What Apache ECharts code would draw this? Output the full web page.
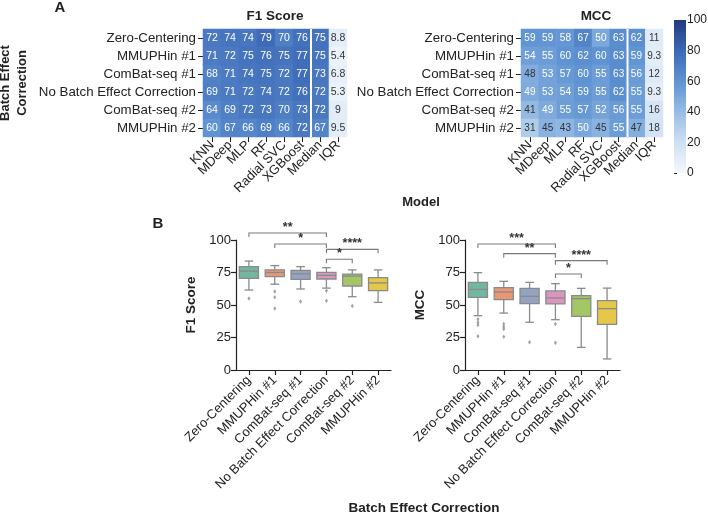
<!DOCTYPE html>
<html><head><meta charset="utf-8">
<script src="https://cdn.jsdelivr.net/npm/echarts@6/dist/echarts.min.js"></script>
<style>html,body{margin:0;padding:0;background:#fff}#c{width:708px;height:517px}</style>
</head><body><div id="c"></div>
<script>
// ---------- DATA ----------
const corrections = ['Zero-Centering', 'MMUPHin #1', 'ComBat-seq #1', 'No Batch Effect Correction', 'ComBat-seq #2', 'MMUPHin #2'];
const models = ['KNN', 'MDeep', 'MLP', 'RF', 'Radial SVC', 'XGBoost', 'Median', 'IQR'];
const separatorAfter = 'XGBoost';

// rows follow `corrections`, columns follow `models`
const f1Matrix = [
  [72, 74, 74, 79, 70, 76, 75, 8.8],
  [71, 72, 75, 76, 75, 77, 75, 5.4],
  [68, 71, 74, 75, 72, 77, 73, 6.8],
  [69, 71, 72, 74, 72, 76, 72, 5.3],
  [64, 69, 72, 73, 70, 73, 72, 9],
  [60, 67, 66, 69, 66, 72, 67, 9.5]
];
const mccMatrix = [
  [59, 59, 58, 67, 50, 63, 62, 11],
  [54, 55, 60, 62, 60, 63, 59, 9.3],
  [48, 53, 57, 60, 55, 63, 56, 12],
  [49, 53, 54, 59, 55, 62, 55, 9.3],
  [41, 49, 55, 57, 52, 56, 55, 16],
  [31, 45, 43, 50, 45, 55, 47, 18]
];

// box stats: [lower whisker, Q1, median, Q3, upper whisker]
const f1Box = [
  [61.5, 70.5, 76.0, 79.5, 83.8],
  [66.0, 71.8, 75.0, 77.0, 80.3],
  [62.3, 69.7, 74.0, 76.7, 79.5],
  [63.0, 70.0, 72.8, 75.1, 78.7],
  [56.4, 64.6, 72.3, 73.8, 77.0],
  [52.0, 61.0, 67.0, 71.0, 77.0]
];
const mccBox = [
  [41.8, 55.9, 62.0, 67.4, 74.9],
  [43.8, 54.1, 60.0, 63.3, 68.2],
  [36.7, 51.0, 56.7, 62.8, 67.4],
  [38.7, 50.8, 55.4, 60.8, 66.4],
  [17.4, 41.3, 54.9, 57.2, 62.8],
  [8.5, 35.1, 47.2, 53.3, 63.0]
];
// outliers: [correction index, value]
const f1Outliers = [[0, 55], [1, 60.3], [1, 56], [1, 47.4], [2, 52.6], [3, 61], [3, 53.3], [4, 49.2]];
const mccOutliers = [[0, 39], [0, 36.6], [0, 34.6], [0, 26], [1, 35.4], [1, 33.3], [1, 31.5], [1, 25.6], [2, 21.3], [3, 35.4], [3, 21]];

// significance brackets: [from index, to index, height, label]
const f1Brackets = [[0, 3, 105.4, '**'], [1, 3, 96.9, '*'], [3, 5, 92.8, '****'], [3, 4, 85.2, '*']];
const mccBrackets = [[0, 3, 96.9, '***'], [1, 3, 89.5, '**'], [3, 5, 84.1, '****'], [3, 4, 73.8, '*']];

const boxTicks = [0, 25, 50, 75, 100];
const colorbarTicks = [0, 20, 40, 60, 80, 100];

// ---------- STYLE ----------
const FONT = 'Liberation Sans, Arial, Helvetica, sans-serif';
const blues = ['#f4f8fd', '#cfe0f3', '#97bce5', '#5f93d2', '#3c68b6', '#233b7d'];
const boxColors = ['#71b6a1', '#e99675', '#95a3c3', '#db96c0', '#a2c764', '#e5c849'];
const grey = '#8a8a8a';
const ink = '#222';

function heatData(mat) {
  const out = [];
  mat.forEach((row, r) => row.forEach((v, c) => {
    out.push({ value: [c, r, v], label: { color: v >= 49 ? '#ffffff' : '#333333' } });
  }));
  return out;
}

function heatAxes(gi) {
  return {
    x: {
      type: 'category', gridIndex: gi, data: models,
      axisLine: { show: false },
      axisTick: { show: true, alignWithLabel: true, length: 5, lineStyle: { color: ink } },
      axisLabel: { rotate: 45, fontSize: 13, color: ink, margin: 6, fontFamily: FONT, interval: 0 },
      splitArea: { show: false }
    },
    y: {
      type: 'category', gridIndex: gi, data: corrections, inverse: true,
      axisLine: { show: false },
      axisTick: { show: true, alignWithLabel: true, length: 5, lineStyle: { color: ink } },
      axisLabel: { fontSize: 13.3, color: ink, margin: 7, fontFamily: FONT, interval: 0 }
    }
  };
}

function boxAxes(gi, name) {
  return {
    x: {
      type: 'category', gridIndex: gi, data: corrections,
      axisLine: { show: true, lineStyle: { color: ink, width: 1.2 } },
      axisTick: { show: true, alignWithLabel: true, length: 5, lineStyle: { color: ink, width: 1.2 } },
      axisLabel: { rotate: 45, fontSize: 13, color: ink, margin: 8, fontFamily: FONT, interval: 0 }
    },
    y: {
      type: 'value', gridIndex: gi, min: boxTicks[0], max: boxTicks[boxTicks.length - 1],
      interval: boxTicks[1] - boxTicks[0],
      name: name, nameLocation: 'middle', nameGap: 38,
      nameTextStyle: { fontSize: 13.5, fontWeight: 'bold', color: ink, fontFamily: FONT },
      axisLine: { show: true, lineStyle: { color: ink, width: 1.2 } },
      axisTick: { show: true, length: 5, lineStyle: { color: ink, width: 1.2 } },
      axisLabel: { fontSize: 13, color: ink, margin: 5, fontFamily: FONT },
      splitLine: { show: false }
    }
  };
}

function boxRender(params, api) {
  const i = api.value(0);
  const pLo = api.coord([i, api.value(1)]);
  const pQ1 = api.coord([i, api.value(2)]);
  const pMed = api.coord([i, api.value(3)]);
  const pQ3 = api.coord([i, api.value(4)]);
  const pHi = api.coord([i, api.value(5)]);
  const bw = api.size([1, 0])[0] * 0.74;
  const cap = bw * 0.45;
  const x = pLo[0];
  const ls = { stroke: grey, lineWidth: 1.3 };
  return {
    type: 'group', children: [
      { type: 'line', shape: { x1: x, y1: pQ3[1], x2: x, y2: pHi[1] }, style: ls },
      { type: 'line', shape: { x1: x, y1: pQ1[1], x2: x, y2: pLo[1] }, style: ls },
      { type: 'line', shape: { x1: x - cap / 2, y1: pHi[1], x2: x + cap / 2, y2: pHi[1] }, style: ls },
      { type: 'line', shape: { x1: x - cap / 2, y1: pLo[1], x2: x + cap / 2, y2: pLo[1] }, style: ls },
      { type: 'rect', shape: { x: x - bw / 2, y: pQ3[1], width: bw, height: pQ1[1] - pQ3[1] },
        style: { fill: boxColors[i], stroke: grey, lineWidth: 1.3 } },
      { type: 'line', shape: { x1: x - bw / 2, y1: pMed[1], x2: x + bw / 2, y2: pMed[1] }, style: ls }
    ]
  };
}

function bracketRenderer(list) {
  return function (params, api) {
    const item = list[params.dataIndex];
    const a = api.coord([item[0], item[2]]);
    const b = api.coord([item[1], item[2]]);
    const drop = 4;
    return {
      type: 'group', children: [
        { type: 'polyline', shape: { points: [[a[0], a[1] + drop], [a[0], a[1]], [b[0], b[1]], [b[0], b[1] + drop]] },
          style: { stroke: '#7a7a7a', lineWidth: 1.1, fill: null } },
        { type: 'text', x: (a[0] + b[0]) / 2, y: a[1] + 1,
          style: { text: item[3], fontSize: 12.5, fontWeight: 'bold', fill: '#333', textAlign: 'center', textVerticalAlign: 'bottom', fontFamily: FONT } }
      ]
    };
  };
}

function sepRender(params, api) {
  const idx = models.indexOf(separatorAfter);
  const a = api.coord([idx, 0]);
  const w = api.size([1, 0])[0];
  const cs = params.coordSys;
  const x = a[0] + w / 2;
  return { type: 'line', shape: { x1: x, y1: cs.y, x2: x, y2: cs.y + cs.height }, style: { stroke: '#fff', lineWidth: 2 } };
}

function colorbarRender(params, api) {
  const cs = params.coordSys;
  const pLow = api.coord([0, colorbarTicks[0]]);
  const pHigh = api.coord([0, colorbarTicks[colorbarTicks.length - 1]]);
  return {
    type: 'rect', shape: { x: cs.x, y: pHigh[1], width: cs.width, height: pLow[1] - pHigh[1] },
    style: {
      fill: { type: 'linear', x: 0, y: 1, x2: 0, y2: 0,
        colorStops: blues.map((c, k) => ({ offset: k / (blues.length - 1), color: c })) }
    }
  };
}

const hA = heatAxes(0), hB = heatAxes(1), bA = boxAxes(2, 'F1 Score'), bB = boxAxes(3, 'MCC');

const option = {
  animation: false,
  backgroundColor: '#fff',
  textStyle: { fontFamily: FONT },
  grid: [
    { left: 203, top: 29, width: 144, height: 108, outerBoundsMode: 'none', containLabel: false },
    { left: 521, top: 29, width: 142, height: 108, outerBoundsMode: 'none', containLabel: false },
    { left: 236, top: 240, width: 155, height: 130, outerBoundsMode: 'none', containLabel: false },
    { left: 465, top: 240, width: 155, height: 130, outerBoundsMode: 'none', containLabel: false },
    { left: 674, top: 20, width: 12, height: 153, outerBoundsMode: 'none', containLabel: false }
  ],
  xAxis: [hA.x, hB.x, bA.x, bB.x,
    { type: 'value', gridIndex: 4, min: 0, max: 1, show: false }],
  yAxis: [hA.y, hB.y, bA.y, bB.y,
    { type: 'value', gridIndex: 4, position: 'right', min: 0, max: 100, interval: 20,
      axisLine: { show: false }, splitLine: { show: false },
      axisTick: { show: true, inside: false, length: 3, lineStyle: { color: ink } },
      axisLabel: { fontSize: 12, color: ink, margin: 1, fontFamily: FONT } }],
  visualMap: {
    show: false, type: 'continuous', min: 0, max: 100, seriesIndex: [0, 1],
    inRange: { color: blues }
  },
  series: [
    { type: 'heatmap', xAxisIndex: 0, yAxisIndex: 0, data: heatData(f1Matrix),
      label: { show: true, fontSize: 10.5, fontFamily: FONT, formatter: p => String(p.value[2]) },
      itemStyle: { borderWidth: 0 } },
    { type: 'heatmap', xAxisIndex: 1, yAxisIndex: 1, data: heatData(mccMatrix),
      label: { show: true, fontSize: 10, fontFamily: FONT, formatter: p => String(p.value[2]) },
      itemStyle: { borderWidth: 0 } },
    { type: 'custom', xAxisIndex: 0, yAxisIndex: 0, data: [[0, 0]], renderItem: sepRender, z: 5, silent: true },
    { type: 'custom', xAxisIndex: 1, yAxisIndex: 1, data: [[0, 0]], renderItem: sepRender, z: 5, silent: true },
    { type: 'custom', xAxisIndex: 2, yAxisIndex: 2, renderItem: boxRender,
      data: f1Box.map((b, i) => [i].concat(b)), encode: { x: 0, y: [1, 2, 3, 4, 5] } },
    { type: 'custom', xAxisIndex: 3, yAxisIndex: 3, renderItem: boxRender,
      data: mccBox.map((b, i) => [i].concat(b)), encode: { x: 0, y: [1, 2, 3, 4, 5] } },
    { type: 'scatter', xAxisIndex: 2, yAxisIndex: 2, data: f1Outliers, symbol: 'diamond', symbolSize: [3, 4.5],
      itemStyle: { color: grey } },
    { type: 'scatter', xAxisIndex: 3, yAxisIndex: 3, data: mccOutliers, symbol: 'diamond', symbolSize: [3, 4.5],
      itemStyle: { color: grey } },
    { type: 'custom', xAxisIndex: 2, yAxisIndex: 2, renderItem: bracketRenderer(f1Brackets), clip: false,
      data: f1Brackets.map(b => [b[0], b[1], b[2]]), encode: { x: [0, 1], y: 2 } },
    { type: 'custom', xAxisIndex: 3, yAxisIndex: 3, renderItem: bracketRenderer(mccBrackets), clip: false,
      data: mccBrackets.map(b => [b[0], b[1], b[2]]), encode: { x: [0, 1], y: 2 } },
    { type: 'custom', xAxisIndex: 4, yAxisIndex: 4, renderItem: colorbarRender, data: [[0.5, 50]], silent: true, z: 1 }
  ],
  graphic: [
    { type: 'text', x: 60, y: 8, style: { text: 'A', fontSize: 15, fontWeight: 'bold', fill: ink, textAlign: 'center', textVerticalAlign: 'middle', fontFamily: FONT } },
    { type: 'text', x: 158, y: 224, style: { text: 'B', fontSize: 15, fontWeight: 'bold', fill: ink, textAlign: 'center', textVerticalAlign: 'middle', fontFamily: FONT } },
    { type: 'text', x: 275, y: 16, style: { text: 'F1 Score', fontSize: 13.5, fontWeight: 'bold', fill: ink, textAlign: 'center', textVerticalAlign: 'middle', fontFamily: FONT } },
    { type: 'text', x: 596, y: 16, style: { text: 'MCC', fontSize: 13.5, fontWeight: 'bold', fill: ink, textAlign: 'center', textVerticalAlign: 'middle', fontFamily: FONT } },
    { type: 'text', x: 14, y: 83, rotation: Math.PI / 2, style: { text: 'Batch Effect\nCorrection', fontSize: 13, fontWeight: 'bold', fill: ink, textAlign: 'center', textVerticalAlign: 'middle', fontFamily: FONT, lineHeight: 17 } },
    { type: 'text', x: 421, y: 202, style: { text: 'Model', fontSize: 13, fontWeight: 'bold', fill: ink, textAlign: 'center', textVerticalAlign: 'middle', fontFamily: FONT } },
    { type: 'text', x: 424, y: 508, style: { text: 'Batch Effect Correction', fontSize: 13.5, fontWeight: 'bold', fill: ink, textAlign: 'center', textVerticalAlign: 'middle', fontFamily: FONT } }
  ]
};

const chart = echarts.init(document.getElementById('c'), null, { renderer: 'canvas' });
chart.setOption(option);
</script>
</body></html>
